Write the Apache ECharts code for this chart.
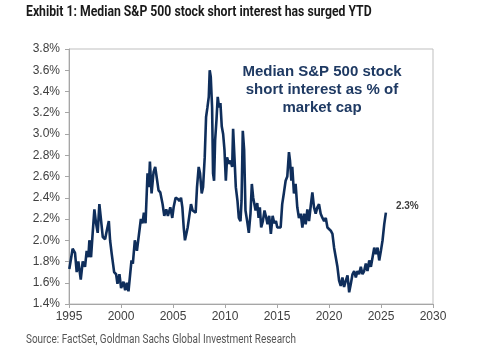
<!DOCTYPE html>
<html>
<head>
<meta charset="utf-8">
<script src="https://cdn.jsdelivr.net/npm/echarts@6/dist/echarts.min.js"></script>
<style>html,body{margin:0;padding:0;background:#fff;}#c{width:500px;height:355px;}</style>
</head>
<body>
<div id="c"></div>
<script>
const titleText = 'Exhibit 1: Median S&P 500 stock short interest has surged YTD';
const sourceText = 'Source: FactSet, Goldman Sachs Global Investment Research';
const noteLines = ['Median S&P 500 stock', 'short interest as % of', 'market cap'];
const endLabelText = '2.3%';
const xTicks = [1995, 2000, 2005, 2010, 2015, 2020, 2025, 2030];
const yTicks = [1.4, 1.6, 1.8, 2.0, 2.2, 2.4, 2.6, 2.8, 3.0, 3.2, 3.4, 3.6, 3.8];

const years = [
1995.03,1995.35,1995.58,1995.74,1995.90,1996.13,1996.32,1996.54,1996.70,1996.86,1996.96,
1997.12,1997.25,1997.44,1997.60,1997.76,1997.92,1998.09,1998.25,1998.47,1998.63,1998.83,1998.95,
1999.11,1999.34,1999.53,1999.66,1999.85,2000.01,2000.24,2000.40,2000.56,2000.72,2000.88,
2001.01,2001.14,2001.33,2001.53,2001.72,2001.91,2002.07,2002.20,2002.36,2002.55,2002.68,2002.78,2002.94,
2003.13,2003.29,2003.45,2003.61,2003.78,2004.00,2004.16,2004.35,2004.51,2004.74,2004.93,
2005.06,2005.25,2005.45,2005.61,2005.77,2005.90,2006.03,2006.15,2006.28,2006.41,2006.60,2006.73,2006.89,
2007.05,2007.18,2007.31,2007.47,2007.60,2007.76,2007.89,2008.05,2008.18,2008.31,2008.44,2008.53,2008.63,2008.76,2008.85,2008.95,
2009.05,2009.18,2009.30,2009.43,2009.56,2009.69,2009.82,2009.95,2010.08,2010.20,2010.36,2010.53,2010.69,2010.78,2010.91,
2011.04,2011.20,2011.33,2011.49,2011.59,2011.71,2011.84,2011.97,2012.13,2012.29,2012.45,2012.58,2012.71,2012.84,2012.94,
2013.10,2013.23,2013.35,2013.48,2013.64,2013.80,2013.97,2014.09,2014.25,2014.41,2014.58,2014.74,2014.90,
2015.03,2015.19,2015.35,2015.50,2015.67,2015.83,2015.99,2016.15,2016.25,2016.38,2016.47,2016.63,2016.79,2016.95,
2017.11,2017.28,2017.44,2017.60,2017.76,2017.92,2018.08,2018.24,2018.40,2018.56,2018.72,2018.88,
2019.04,2019.20,2019.37,2019.53,2019.69,2019.85,2020.01,2020.17,2020.33,2020.49,2020.65,2020.81,2020.97,
2021.13,2021.29,2021.45,2021.62,2021.78,2021.94,2022.10,2022.26,2022.42,2022.58,2022.74,2022.90,
2023.06,2023.22,2023.38,2023.54,2023.70,2023.87,2024.03,2024.19,2024.35,2024.51,2024.67,2024.83,2024.99,
2025.15,2025.31,2025.47
];
const shortInterest = [
1.73,1.92,1.88,1.70,1.80,1.63,1.80,1.75,1.90,1.84,2.00,
1.84,2.03,2.29,2.16,2.07,2.34,2.18,2.03,2.01,2.09,2.18,2.00,
1.87,1.70,1.68,1.59,1.68,1.55,1.61,1.53,1.60,1.52,1.68,
1.81,1.78,2.00,1.90,1.90,2.20,2.16,2.26,2.16,2.63,2.50,2.74,2.44,
2.64,2.69,2.68,2.47,2.45,2.34,2.23,2.29,2.23,2.31,2.21,
2.31,2.40,2.39,2.37,2.40,2.31,2.12,2.00,2.06,2.12,2.25,2.34,2.28,
2.29,2.26,2.50,2.69,2.63,2.44,2.50,2.78,3.16,3.25,3.35,3.60,3.54,3.25,2.63,2.56,
2.94,3.13,3.35,3.25,3.29,3.07,3.00,2.85,2.56,2.78,2.72,2.75,2.69,3.05,2.78,
2.50,2.37,2.21,2.18,2.37,3.03,2.85,2.28,2.18,2.07,2.25,2.53,2.40,2.40,2.28,
2.35,2.21,2.31,2.12,2.18,2.28,2.21,2.15,2.23,2.06,2.23,2.16,2.18,
2.12,2.11,2.12,2.34,2.45,2.56,2.60,2.83,2.75,2.56,2.69,2.44,2.53,2.31,
2.21,2.25,2.12,2.25,2.15,2.29,2.18,2.32,2.45,2.31,2.25,2.31,
2.34,2.25,2.21,2.18,2.21,2.12,2.12,2.09,2.06,1.93,1.84,1.75,1.62,
1.57,1.65,1.56,1.62,1.67,1.51,1.59,1.68,1.71,1.65,1.71,1.68,
1.75,1.68,1.71,1.78,1.71,1.81,1.75,1.84,1.93,1.87,1.93,1.81,1.90,
2.00,2.15,2.26
];

const seriesData = years.map((y, i) => [y, shortInterest[i]]);

const chart = echarts.init(document.getElementById('c'));
chart.setOption({
  animation: false,
  backgroundColor: '#ffffff',
  grid: { left: 69, right: 67, top: 49, bottom: 51, show: true, borderColor: '#BFBFBF', borderWidth: 1 },
  graphic: [
    { type: 'text', x: 26, y: 5, scaleX: 0.815, scaleY: 1,
      style: { text: titleText, x: 0, y: 0, font: 'bold 15px Roboto, sans-serif', fill: '#1a1a1a' } },
    { type: 'text', x: 26, y: 334, scaleX: 0.83, scaleY: 1,
      style: { text: sourceText, x: 0, y: 0, font: '12px Roboto, sans-serif', fill: '#555555' } },
    { type: 'text', x: 322, y: 63,
      style: { text: noteLines.join('\n'), x: 0, y: 0, textAlign: 'center',
        font: 'bold 15px "Liberation Sans", Arial, sans-serif', fill: '#1F3A63', lineHeight: 18 } }
  ],
  xAxis: {
    type: 'value', min: xTicks[0], max: xTicks[xTicks.length - 1], interval: 5,
    axisLine: { show: true, lineStyle: { color: '#A6A6A6' } },
    axisTick: { show: true, length: 4, lineStyle: { color: '#A6A6A6' } },
    splitLine: { show: false },
    axisLabel: { color: '#404040', fontSize: 12, margin: 7, fontFamily: 'Liberation Sans, Arial, sans-serif',
      formatter: v => String(v) }
  },
  yAxis: {
    type: 'value', min: 1.4, max: 3.8, interval: 0.2,
    axisLine: { show: true, lineStyle: { color: '#A6A6A6' } },
    axisTick: { show: true, length: 4, lineStyle: { color: '#A6A6A6' } },
    splitLine: { show: false },
    axisLabel: { color: '#404040', fontSize: 12, margin: 9, fontFamily: 'Liberation Sans, Arial, sans-serif',
      formatter: v => v.toFixed(1) + '%' }
  },
  series: [{
    type: 'line', data: seriesData, showSymbol: false, smooth: false,
    lineStyle: { color: '#0F2E5B', width: 2.6 },
    endLabel: { show: true, formatter: endLabelText, offset: [2, -6], color: '#404040', fontSize: 10, fontWeight: 'bold',
      fontFamily: 'Liberation Sans, Arial, sans-serif' }
  }]
});
</script>
</body>
</html>
